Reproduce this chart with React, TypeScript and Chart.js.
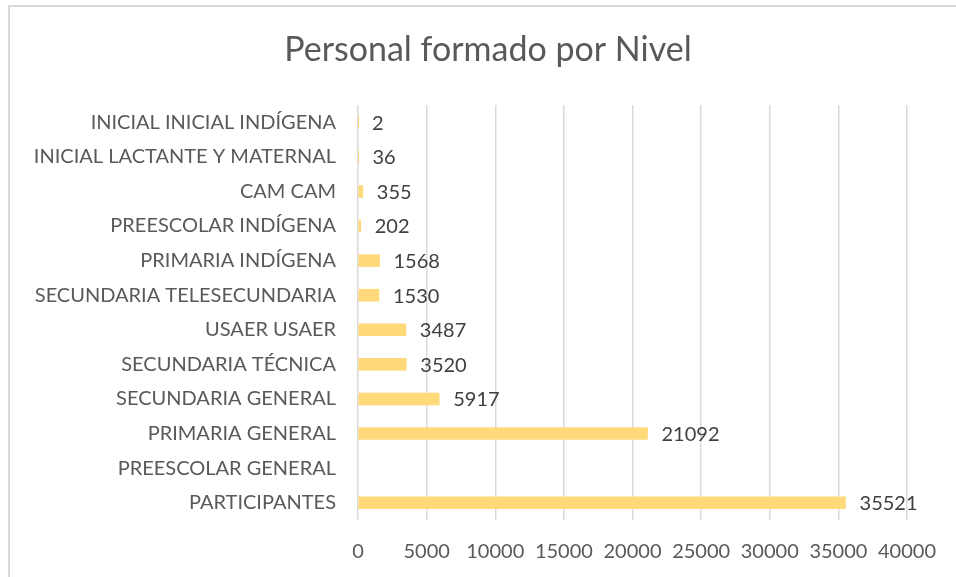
import React, { useEffect, useRef } from "react";
import { Chart, registerables } from "chart.js";

Chart.register(...registerables);

const categories = [
  "INICIAL INICIAL INDÍGENA",
  "INICIAL LACTANTE Y MATERNAL",
  "CAM CAM",
  "PREESCOLAR INDÍGENA",
  "PRIMARIA INDÍGENA",
  "SECUNDARIA TELESECUNDARIA",
  "USAER USAER",
  "SECUNDARIA TÉCNICA",
  "SECUNDARIA GENERAL",
  "PRIMARIA GENERAL",
  "PREESCOLAR GENERAL",
  "PARTICIPANTES",
];
const values: (number | null)[] = [2, 36, 355, 202, 1568, 1530, 3487, 3520, 5917, 21092, null, 35521];
const xTicks = [0, 5000, 10000, 15000, 20000, 25000, 30000, 35000, 40000];
const titleText = "Personal formado por Nivel";

const FONT = "Lato";

const dataLabels = {
  id: "dataLabels",
  afterDatasetsDraw(chart: any) {
    const ctx = chart.ctx;
    const meta = chart.getDatasetMeta(0);
    ctx.save();
    ctx.font = `20px ${FONT}`;
    ctx.fillStyle = "#404040";
    ctx.textAlign = "left";
    ctx.textBaseline = "middle";
    meta.data.forEach((bar: any, i: number) => {
      const v = values[i];
      if (v === null || v === undefined) return;
      ctx.fillText(String(v), bar.x + 14, bar.y + 1);
    });
    ctx.restore();
  },
};

const titlePlugin = {
  id: "customTitle",
  afterDraw(chart: any) {
    const ctx = chart.ctx;
    ctx.save();
    ctx.font = `34px ${FONT}`;
    ctx.fillStyle = "#595959";
    ctx.textAlign = "center";
    ctx.textBaseline = "middle";
    ctx.fillText(titleText, 488, 50);
    ctx.restore();
  },
};

export default function App() {
  const ref = useRef<HTMLCanvasElement>(null);
  useEffect(() => {
    if (!ref.current) return;
    const chart = new Chart(ref.current, {
      type: "bar",
      data: {
        labels: categories,
        datasets: [
          {
            data: values,
            backgroundColor: "#FFD97A",
            barThickness: 12,
          },
        ],
      },
      options: {
        indexAxis: "y",
        animation: false,
        responsive: false,
        layout: { padding: { left: 0, right: 45, top: 105, bottom: 0 } },
        plugins: {
          legend: { display: false },
          tooltip: { enabled: false },
          title: { display: false },
        },
        scales: {
          x: {
            min: 0,
            max: 40000,
            afterBuildTicks: (scale: any) => {
              scale.ticks = xTicks.map((v) => ({ value: v }));
            },
            afterFit: (scale: any) => {
              scale.height = 57;
            },
            grid: { color: "#d9d9d9", lineWidth: 1.5, drawTicks: false },
            border: { display: false },
            ticks: {
              color: "#595959",
              font: { family: FONT, size: 20 },
              padding: 20,
              maxRotation: 0,
              autoSkip: false,
              callback: (v: any) => String(v),
            },
          },
          y: {
            afterFit: (scale: any) => {
              scale.width = 358;
            },
            grid: { display: false, drawTicks: false },
            border: { display: false },
            ticks: {
              color: "#595959",
              font: { family: FONT, size: 20 },
              padding: 22,
              autoSkip: false,
            },
          },
        },
      },
      plugins: [dataLabels, titlePlugin],
    });
    return () => chart.destroy();
  }, []);
  return (
    <div style={{ position: "absolute", left: 0, top: 0, width: 956, height: 577, background: "#fff", overflow: "hidden" }}>
      <div
        style={{
          position: "absolute",
          left: 8,
          top: 5,
          width: 1000,
          height: 1000,
          borderLeft: "2px solid #d9d9d9",
          borderTop: "2px solid #d9d9d9",
        }}
      />
      <canvas ref={ref} width={956} height={577} style={{ position: "absolute", left: 0, top: 0 }} />
    </div>
  );
}
